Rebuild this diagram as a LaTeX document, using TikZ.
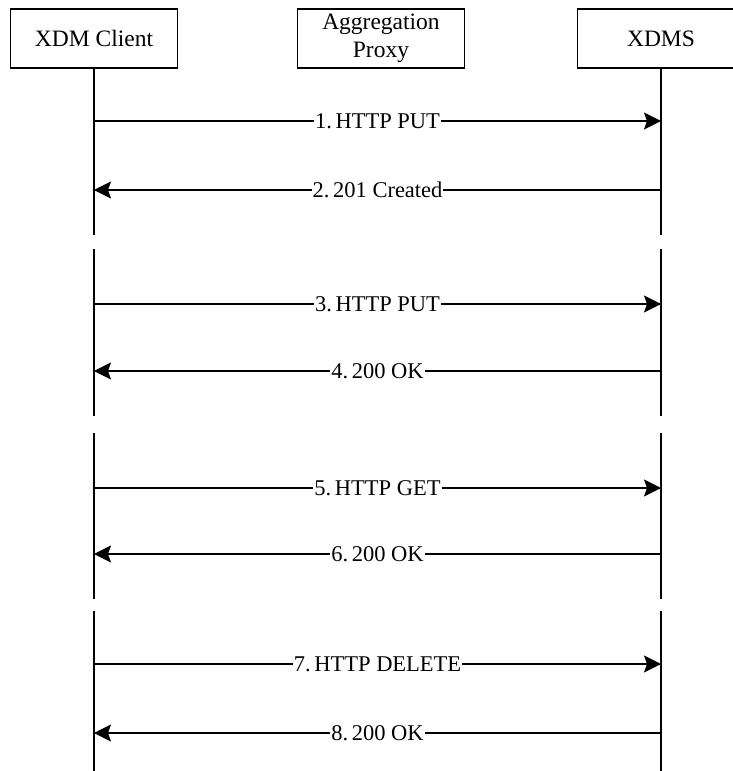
\documentclass[tikz,border=0pt]{standalone}
\usepackage{fontspec}
\setmainfont{Liberation Serif}
\usetikzlibrary{arrows.meta}
\tikzset{
  actor/.style={draw, line width=1.6pt, minimum width=167pt, minimum height=59pt, inner sep=0pt, align=center, font=\fontsize{23.5}{27.5}\selectfont},
  life/.style={line width=2pt},
  msg/.style={line width=1.4pt, -{Stealth[length=17pt,width=17pt,inset=3pt]}},
  lbl/.style={fill=white, inner xsep=1pt, inner ysep=2pt, font=\fontsize{22.5}{23}\selectfont}
}
\begin{document}
\begin{tikzpicture}[x=1pt,y=-1pt]
\useasboundingbox (0,0) rectangle (733,771);
\node[actor] (cl) at (94,38.5) {XDM Client};
\node[actor] (ap) at (381,38.5) {Aggregation\\Proxy};
\node[actor] (xs) at (661,38.5) {XDMS};
% lifeline segment ends
\foreach \n/\x in {c/94, s/661}{
  \coordinate (\n1a) at (\x,235); \coordinate (\n1b) at (\x,249);
  \coordinate (\n2a) at (\x,416); \coordinate (\n2b) at (\x,433);
  \coordinate (\n3a) at (\x,599); \coordinate (\n3b) at (\x,611);
  \coordinate (\n4) at (\x,771);
}
\draw[life] (cl.south) -- (c1a) (c1b) -- (c2a) (c2b) -- (c3a) (c3b) -- (c4);
\draw[life] (xs.south) -- (s1a) (s1b) -- (s2a) (s2b) -- (s3a) (s3b) -- (s4);
% message end points
\foreach \i/\y in {1/121, 2/190, 3/304, 4/371, 5/488, 6/554, 7/664, 8/733}{
  \coordinate (ma\i) at (94,\y);
  \coordinate (mb\i) at (661,\y);
}
\draw[msg] (ma1) -- node[lbl]{1.\,HTTP PUT} (mb1);
\draw[msg] (mb2) -- node[lbl]{2.\,201 Created} (ma2);
\draw[msg] (ma3) -- node[lbl]{3.\,HTTP PUT} (mb3);
\draw[msg] (mb4) -- node[lbl]{4.\,200 OK} (ma4);
\draw[msg] (ma5) -- node[lbl]{5.\,HTTP GET} (mb5);
\draw[msg] (mb6) -- node[lbl]{6.\,200 OK} (ma6);
\draw[msg] (ma7) -- node[lbl]{7.\,HTTP DELETE} (mb7);
\draw[msg] (mb8) -- node[lbl]{8.\,200 OK} (ma8);
\end{tikzpicture}
\end{document}
